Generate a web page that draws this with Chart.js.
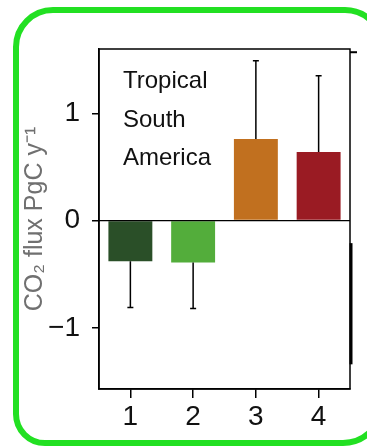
<!DOCTYPE html>
<html>
<head>
<meta charset="utf-8">
<script src="https://cdn.jsdelivr.net/npm/chart.js@4"></script>
<style>
    html, body { margin: 0; padding: 0; background: #fff; overflow: hidden; }
    #wrap { position: relative; width: 367px; height: 446px; overflow: hidden; }
    #frame {
        position: absolute; left: 13px; top: 7px; width: 372px; height: 439px;
        box-sizing: border-box; border: 6px solid #22e022;
        border-radius: 40px 40px 42px 32px;
    }
    #c { position: absolute; left: 0; top: 0; }
</style>
</head>
<body>
<div id="wrap">
    <div id="frame"></div>
    <canvas id="c" width="367" height="446"></canvas>
</div>
<script>
// số liệu
const categories = ['1', '2', '3', '4'];
const fluxValues = [-0.38, -0.39, 0.76, 0.64];
const errorEnds = [-0.81, -0.82, 1.49, 1.35];
const barColors = ['#2a4f28', '#53ad3b', '#c1701f', '#9a1b23'];
const yTicks = [-1, 0, 1];
const regionLines = ['Tropical', 'South', 'America'];

const tickFont = "'Liberation Sans Narrow', 'Liberation Sans', Arial, sans-serif";
const textFont = "'Liberation Sans', Arial, sans-serif";

// Vẽ khung, đường 0, thanh sai số và chữ chú thích
const extrasPlugin = {
    id: 'extras',
    afterDatasetsDraw(chart) {
        const { ctx, chartArea: a, scales: { y } } = chart;
        const meta = chart.getDatasetMeta(0);
        ctx.save();
        ctx.strokeStyle = '#000';

        // error bars
        ctx.lineWidth = 1.5;
        meta.data.forEach((bar, i) => {
            const y0 = y.getPixelForValue(fluxValues[i]);
            const y1 = y.getPixelForValue(errorEnds[i]);
            ctx.beginPath();
            ctx.moveTo(bar.x, y0);
            ctx.lineTo(bar.x, y1);
            ctx.moveTo(bar.x - 3, y1);
            ctx.lineTo(bar.x + 3, y1);
            ctx.stroke();
        });

        // zero line
        const yz = y.getPixelForValue(0);
        ctx.lineWidth = 1.2;
        ctx.beginPath();
        ctx.moveTo(a.left, yz);
        ctx.lineTo(a.right, yz);
        ctx.stroke();

        // plot frame
        ctx.lineWidth = 1.5;
        ctx.strokeRect(a.left, a.top, a.right - a.left, a.bottom - a.top);

        // stray marks on the right edge of the original
        ctx.lineWidth = 3;
        ctx.beginPath();
        ctx.moveTo(a.right + 1, y.getPixelForValue(-0.21));
        ctx.lineTo(a.right + 1, y.getPixelForValue(-1.34));
        ctx.stroke();
        ctx.lineWidth = 2;
        ctx.beginPath();
        ctx.moveTo(a.right, y.getPixelForValue(1.57));
        ctx.lineTo(a.right + 7, y.getPixelForValue(1.57));
        ctx.stroke();

        // region label
        ctx.fillStyle = '#111';
        ctx.font = '24px ' + textFont;
        ctx.textAlign = 'left';
        ctx.textBaseline = 'alphabetic';
        regionLines.forEach((line, i) => {
            ctx.fillText(line, a.left + 24, a.top + 39 + i * 38.5);
        });
        ctx.restore();
    }
};

new Chart(document.getElementById('c'), {
    type: 'bar',
    data: {
        labels: categories,
        datasets: [{
            data: fluxValues,
            backgroundColor: barColors,
            borderWidth: 0,
            barPercentage: 0.7,
            categoryPercentage: 1.0
        }]
    },
    options: {
        responsive: false,
        animation: false,
        layout: { padding: { top: 49, right: 17, left: 0, bottom: 0 } },
        plugins: { legend: { display: false }, tooltip: { enabled: false } },
        scales: {
            x: {
                offset: true,
                grid: { offset: false, drawOnChartArea: false, drawTicks: true, tickLength: 9, color: '#000', lineWidth: 1.5 },
                border: { display: true, color: '#000', width: 1.5 },
                ticks: { color: '#111', padding: 2, font: { family: tickFont, size: 28 } },
                afterFit(scale) { scale.height = 57; }
            },
            y: {
                min: -1.57,
                max: 1.6,
                afterBuildTicks(scale) { scale.ticks = yTicks.map(v => ({ value: v })); },
                grid: { drawOnChartArea: false, drawTicks: true, tickLength: 7, color: '#000', lineWidth: 1.5 },
                border: { display: true, color: '#000', width: 1.5 },
                ticks: {
                    color: '#111',
                    padding: 12,
                    font: { family: tickFont, size: 28 },
                    callback: v => String(v).replace('-', '\u2212')
                },
                title: {
                    display: true,
                    text: 'CO\u2082 flux PgC y\u207B\u00B9',
                    color: '#707070',
                    font: { family: textFont, size: 25 },
                    padding: { top: 20, bottom: 0 }
                },
                afterFit(scale) { scale.width = 99; }
            }
        }
    },
    plugins: [extrasPlugin]
});
</script>
</body>
</html>
